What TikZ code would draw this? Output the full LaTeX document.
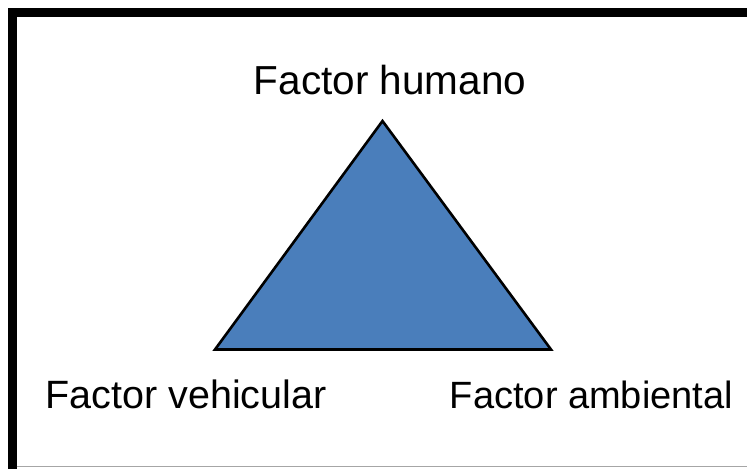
\documentclass[tikz,border=0pt]{standalone}
\usepackage{fontspec}
\setmainfont{Liberation Sans}
\definecolor{triblue}{HTML}{4A7EBB}
\begin{document}
\begin{tikzpicture}[x=1pt,y=-1pt,
  lbl/.style={anchor=base,inner sep=0pt},
  tri/.style={fill=triblue,draw=black,line width=2.6pt,line join=miter}]
\useasboundingbox (0,0) rectangle (747,469);
\fill[white] (0,0) rectangle (747,469);
% frame
\fill[black] (8,8) rectangle (747,16.7);
\fill[black] (8,8) rectangle (16.7,469);
\draw[gray!70,line width=1pt] (16.7,466.5) -- (747,466.5);
% triangle
\coordinate (A) at (382.5,121);
\coordinate (B) at (215,349.5);
\coordinate (C) at (551,349.5);
\draw[tri] (A) -- (B) -- (C) -- cycle;
% labels
\node[lbl,font=\fontsize{40.5}{44}\selectfont] (h) at (390,94) {Factor humano};
\node[lbl,font=\fontsize{39.5}{44}\selectfont] (v) at (186,408) {Factor vehicular};
\node[lbl,font=\fontsize{38}{44}\selectfont] (a) at (591.5,408) {Factor ambiental};
\end{tikzpicture}
\end{document}
